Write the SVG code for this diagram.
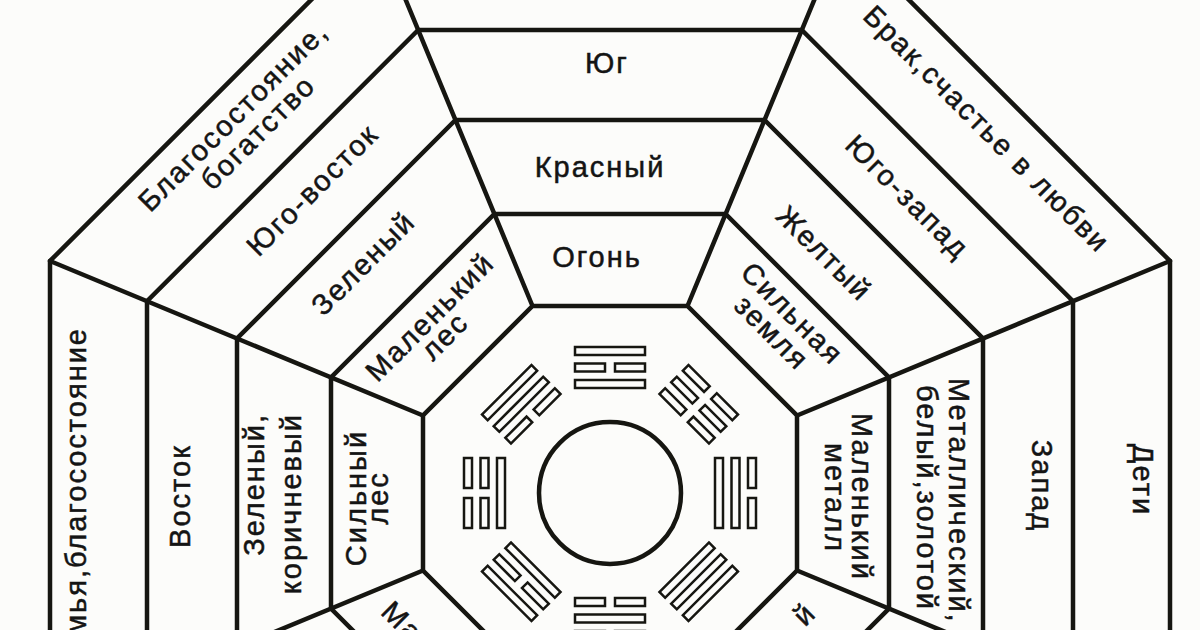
<svg xmlns="http://www.w3.org/2000/svg" width="1200" height="630" viewBox="0 0 1200 630">
<style>
.ln{fill:none;stroke:#161611;stroke-width:4.5;stroke-linejoin:miter;stroke-linecap:round}
.t{font-family:"Liberation Sans",Arial,sans-serif;font-size:29px;letter-spacing:2px;fill:#141414;stroke:#141414;stroke-width:0.5px;text-anchor:middle}
.s{text-anchor:start}
.e{text-anchor:end}
.bx{fill:#fcfcfa;stroke:#161611;stroke-width:2.5}
</style>
<defs>
<rect id="bar" class="bx" x="-35" y="-4" width="70" height="8"/>
<g id="brk"><rect class="bx" x="-35" y="-4" width="30" height="8"/><rect class="bx" x="5" y="-4" width="30" height="8"/></g>
</defs>
<rect width="1200" height="630" fill="#fcfcfa"/>
<g id="connectors">
<polygon class="ln" points="797,570.5 687.5,680 532.5,680 423,570.5 423,415.5 532.5,306 687.5,306 797,415.5"/>
<polygon class="ln" points="889,608.6 725.6,772 494.4,772 331,608.6 331,377.4 494.4,214 725.6,214 889,377.4"/>
<polygon class="ln" points="983,647.5 764.5,866 455.5,866 237,647.5 237,338.5 455.5,120 764.5,120 983,338.5"/>
<polygon class="ln" points="1073,684.8 801.8,956 418.2,956 147,684.8 147,301.2 418.2,30 801.8,30 1073,301.2"/>
<polygon class="ln" points="1170,725 842,1053 378,1053 50,725 50,261 378,-67 842,-67 1170,261"/>
<line class="ln" x1="797" y1="570.5" x2="1170" y2="725"/>
<line class="ln" x1="687.5" y1="680" x2="842" y2="1053"/>
<line class="ln" x1="532.5" y1="680" x2="378" y2="1053"/>
<line class="ln" x1="423" y1="570.5" x2="50" y2="725"/>
<line class="ln" x1="423" y1="415.5" x2="50" y2="261"/>
<line class="ln" x1="532.5" y1="306" x2="378" y2="-67"/>
<line class="ln" x1="687.5" y1="306" x2="842" y2="-67"/>
<line class="ln" x1="797" y1="415.5" x2="1170" y2="261"/>
<circle class="ln" cx="610" cy="493" r="71"/>
</g>
<g id="trigrams">
<g id="tri-S" transform="translate(610 493) rotate(0)"><use href="#bar" y="-142"/><use href="#brk" y="-125.5"/><use href="#bar" y="-109"/></g>
<g id="tri-SW" transform="translate(610 493) rotate(45)"><use href="#brk" y="-142"/><use href="#brk" y="-125.5"/><use href="#brk" y="-109"/></g>
<g id="tri-W" transform="translate(610 493) rotate(90)"><use href="#brk" y="-142"/><use href="#bar" y="-125.5"/><use href="#bar" y="-109"/></g>
<g id="tri-NW" transform="translate(610 493) rotate(135)"><use href="#bar" y="-142"/><use href="#bar" y="-125.5"/><use href="#bar" y="-109"/></g>
<g id="tri-N" transform="translate(610 493) rotate(180)"><use href="#brk" y="-142"/><use href="#bar" y="-125.5"/><use href="#brk" y="-109"/></g>
<g id="tri-NE" transform="translate(610 493) rotate(225)"><use href="#bar" y="-142"/><use href="#brk" y="-125.5"/><use href="#bar" y="-109"/></g>
<g id="tri-E" transform="translate(610 493) rotate(270)"><use href="#brk" y="-142"/><use href="#brk" y="-125.5"/><use href="#bar" y="-109"/></g>
<g id="tri-SE" transform="translate(610 493) rotate(315)"><use href="#bar" y="-142"/><use href="#bar" y="-125.5"/><use href="#brk" y="-109"/></g>
</g>
<g id="sector-S">
<text class="t" x="607" y="73">Юг</text>
<text class="t" x="600" y="177">Красный</text>
<text class="t" x="597" y="267">Огонь</text>
</g>
<g id="sector-E" transform="rotate(-90 610 493)">
<text class="t e" x="776" y="-31">Семья,благосостояние</text>
<text class="t" x="607" y="73">Восток</text>
<text class="t e" x="690" y="147">Зеленый,</text>
<text class="t e" x="690" y="184">коричневый</text>
<text class="t" x="605" y="249">Сильный</text>
<text class="t" x="605" y="271">лес</text>
</g>
<g id="sector-W" transform="rotate(90 610 493)">
<text class="t" x="597" y="-30">Дети</text>
<text class="t" x="603" y="71">Запад</text>
<text class="t s" x="495" y="154">Металлический,</text>
<text class="t s" x="502" y="186">белый,золотой</text>
<text class="t" x="614" y="251">Маленький</text>
<text class="t" x="615" y="278">металл</text>
</g>
<g id="sector-SW" transform="rotate(45 610 493)">
<text class="t" x="619" y="-21">Брак,счастье в любви</text>
<text class="t" x="611" y="83">Юго-запад</text>
<text class="t" x="592" y="182">Желтый</text>
<text class="t" x="612" y="247">Сильная</text>
<text class="t" x="611" y="275">земля</text>
</g>
<g id="sector-SE" transform="rotate(-45 610 493)">
<text class="t" x="610" y="-30">Благосостояние,</text>
<text class="t" x="616" y="-1">богатство</text>
<text class="t" x="614" y="78">Юго-восток</text>
<text class="t" x="598" y="166">Зеленый</text>
<text class="t" x="607" y="251">Маленький</text>
<text class="t" x="604" y="275">лес</text>
</g>
<g id="sector-NE" transform="rotate(45 610 493)">
<text class="t s" x="532" y="741">Ма</text>
</g>
<g id="sector-NW" transform="rotate(-45 610 493)">
<text class="t" x="662" y="726">й</text>
</g>
</svg>
